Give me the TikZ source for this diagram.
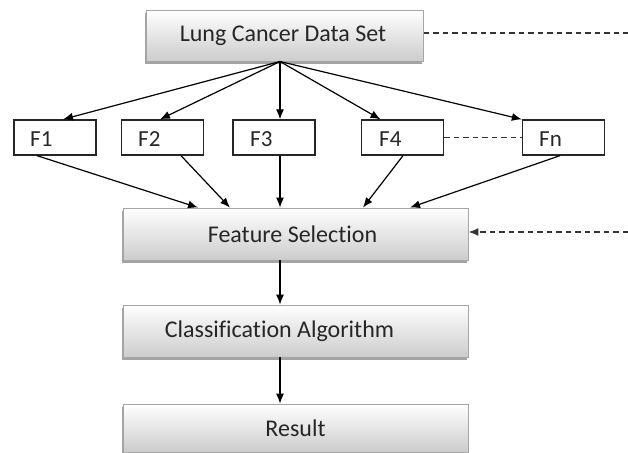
\documentclass[tikz,border=0pt]{standalone}
\usepackage{fontspec}
\setmainfont{Carlito}[Ligatures=NoCommon]
\usetikzlibrary{arrows.meta,shadows,calc}
\begin{document}
\begin{tikzpicture}[x=1pt,y=-1pt,
  stagebox/.style={draw=black!35,line width=0.8pt,top color=white,bottom color=black!20,
    drop shadow={shadow xshift=-1.5pt,shadow yshift=-2.5pt,fill=black!45,opacity=0.8},
    minimum width=345pt,minimum height=52pt,inner sep=0pt,font=\fontsize{24}{28}\selectfont,text=black!85},
  featbox/.style={draw=black!85,line width=1.3pt,fill=white,minimum width=82pt,minimum height=35pt,inner sep=0pt},
  feattext/.style={font=\fontsize{23}{27}\selectfont,text=black!85,anchor=west,inner sep=0pt},
  arr/.style={line width=1.2pt,-{Latex[length=10pt,width=8pt]}},
  dashlink/.style={line width=1.6pt,dash pattern=on 5.5pt off 4pt,black!80}]
\useasboundingbox (0,0) rectangle (628,452);

% stage boxes
\node[stagebox,minimum width=277pt,minimum height=51pt] (ds) at (285,36) {\hspace*{-4pt}Lung Cancer Data Set};
\node[stagebox] (fs) at (295.5,234) {\hspace*{-6pt}Feature Selection};
\node[stagebox] (ca) at (295.5,331) {\hspace*{-32pt}Classification Algorithm};
\node[stagebox,minimum height=48pt] (res) at (295.5,428) {Result};

% feature boxes
\node[featbox] (f1) at (55,137.5) {};
\node[featbox] (f2) at (162.5,137.5) {};
\node[featbox] (f3) at (274,137.5) {};
\node[featbox] (f4) at (402.5,137.5) {};
\node[featbox] (fn) at (563.5,137.5) {};
\node[feattext] at (30,139) {F1};
\node[feattext] at (138,139) {F2};
\node[feattext] at (250,139) {F3};
\node[feattext] at (379,139) {F4};
\node[feattext] at (539,139) {Fn};

% fan out from the data set
\coordinate (fan) at (280,61.5);
\draw[arr] (fan) -- ([xshift=8pt]f1.north);
\draw[arr] (fan) -- ([xshift=-2.5pt]f2.north);
\draw[arr] (fan) -- ([xshift=6pt]f3.north);
\draw[arr] (fan) -- ([xshift=-22pt]f4.north);
\draw[arr] (fan) -- (fn.north west);

% features into selection
\draw[arr] ([xshift=-18pt]f1.south) -- ([xshift=-97.5pt]fs.north);
\draw[arr] ([xshift=18.5pt]f2.south) -- ([xshift=-65.5pt]fs.north);
\draw[arr] ([xshift=6pt]f3.south) -- ([xshift=-15.5pt]fs.north);
\draw[arr] ([xshift=0.5pt]f4.south) -- ([xshift=67.5pt]fs.north);
\draw[arr] ([xshift=-3.5pt]fn.south) -- ([xshift=114.5pt]fs.north);

% pipeline
\draw[arr] ([xshift=-15.5pt]fs.south) -- ([xshift=-15.5pt]ca.north);
\draw[arr] ([xshift=-15.5pt]ca.south) -- ([xshift=-15.5pt]res.north);

% dashed links
\coordinate (dsend) at (628,33);
\coordinate (fbstart) at (628,232);
\draw[dashlink] (ds.east |- dsend) -- (dsend);
\draw[dashlink] (f4.east) -- (fn.west);
\draw[dashlink,-{Latex[length=10pt,width=8pt]}] (fbstart) -- (fs.east |- fbstart);
\end{tikzpicture}
\end{document}
